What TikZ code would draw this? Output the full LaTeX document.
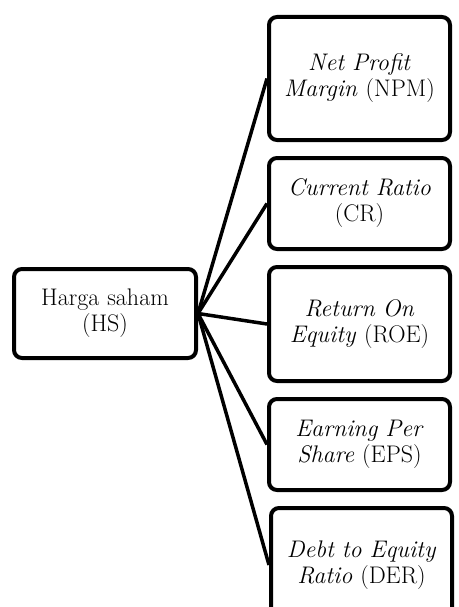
\documentclass[tikz,border=0pt]{standalone}
\usepackage{fontspec}
\usetikzlibrary{positioning}

\begin{document}
\begin{tikzpicture}[x=1pt,y=1pt]
\tikzset{
    stock-box/.style={
        draw,
        rectangle,
        rounded corners=8pt,
        line width=4pt,
        minimum width=182pt,
        minimum height=89pt,
        text width=172pt,
        inner xsep=5pt,
        align=center,
        font=\fontsize{24}{26}\selectfont,
    },
    ratio-box/.style={
        draw,
        rectangle,
        rounded corners=8pt,
        line width=4pt,
        minimum width=181pt,
        minimum height=#1,
        text width=173pt,
        inner xsep=4pt,
        align=center,
        font=\fontsize{24}{26}\selectfont,
    },
    ratio-box/.default=91pt,
    link/.style={
        draw,
        line width=3.5pt,
    },
}
\useasboundingbox (0,0) rectangle (458,-607);
\node[stock-box] (hs) at (105,-313.5) {Harga saham\\(HS)};
\node[ratio-box=123pt] (npm) at (359.5,-78.5) {\textit{Net Profit}\\\textit{Margin} (NPM)};
\node[ratio-box, below=14pt of npm] (cr) {\textit{Current Ratio}\\(CR)};
\node[ratio-box=114pt, below=14pt of cr] (roe) {\textit{Return On}\\\textit{Equity} (ROE)};
\node[ratio-box, below=14pt of roe] (eps) {\textit{Earning Per}\\\textit{Share} (EPS)};
\node[ratio-box=114pt, below=14pt of eps, xshift=2pt] (der) {\textit{Debt to Equity}\\\textit{Ratio} (DER)};
% lines from harga saham to each ratio
\foreach \r in {npm,cr,roe,eps,der}
    \draw[link] (hs.east) -- (\r.west);
\end{tikzpicture}
\end{document}
